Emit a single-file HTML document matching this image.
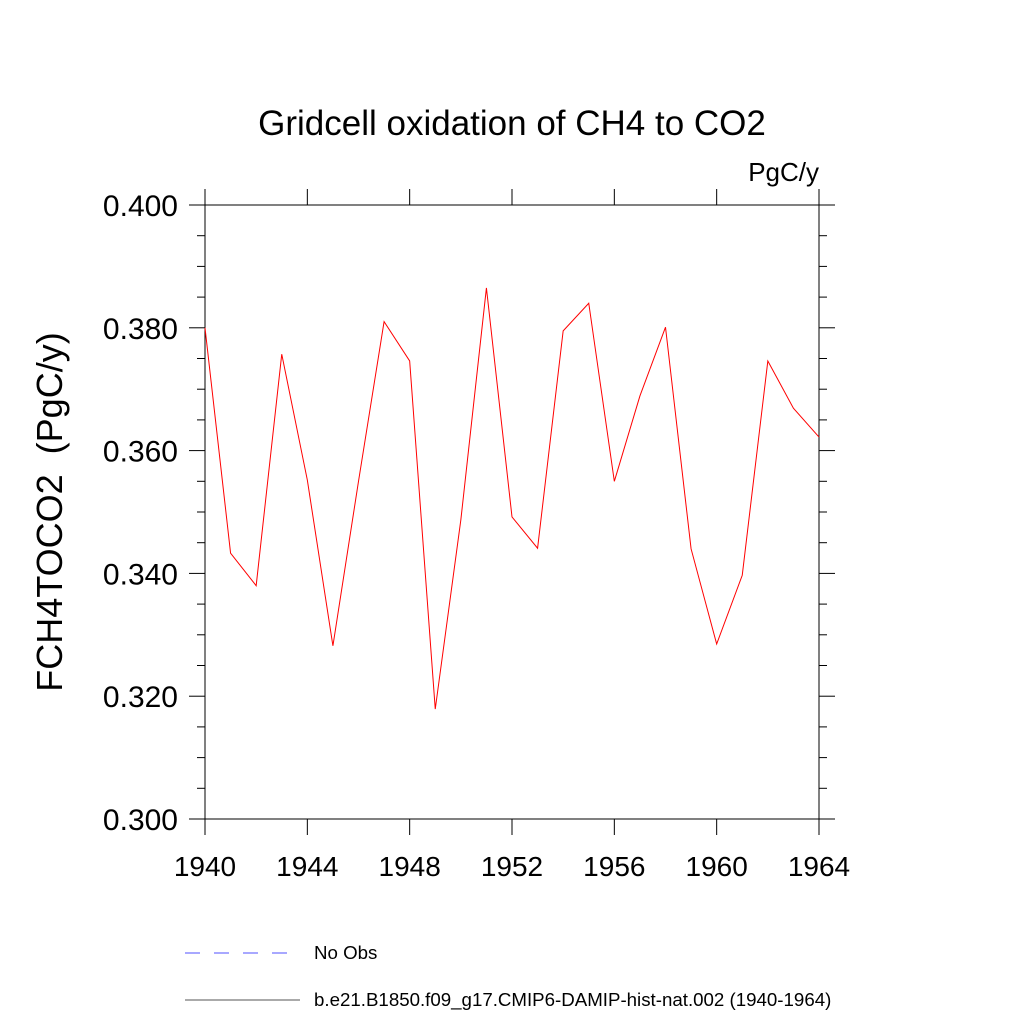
<!DOCTYPE html>
<html><head><meta charset="utf-8"><style>
body{margin:0;background:#fff}
text{font-family:"Liberation Sans",sans-serif;fill:#000;white-space:pre}
</style></head><body>
<svg id="chart" width="1024" height="1024" viewBox="0 0 1024 1024" xmlns="http://www.w3.org/2000/svg">
<text x="512" y="135" font-size="35" text-anchor="middle">Gridcell oxidation of CH4 to CO2</text>
<text x="819" y="181" font-size="26" text-anchor="end">PgC/y</text>
<text transform="translate(62,512) rotate(-90)" font-size="36" text-anchor="middle" xml:space="preserve">FCH4TOCO2  (PgC/y)</text>
<g id="axes"></g>
<g id="series"></g>
<g>
<line x1="185" y1="953" x2="295" y2="953" stroke="#5050ff" stroke-width="1" stroke-dasharray="15,14"/>
<text x="314" y="959" font-size="18.7">No Obs</text>
<line x1="185" y1="1000" x2="300" y2="1000" stroke="#555" stroke-width="1"/>
<text x="314" y="1006" font-size="18.7">b.e21.B1850.f09_g17.CMIP6-DAMIP-hist-nat.002 (1940-1964)</text>
</g>
</svg>
<script>
const years=[1940,1941,1942,1943,1944,1945,1946,1947,1948,1949,1950,1951,1952,1953,1954,1955,1956,1957,1958,1959,1960,1961,1962,1963,1964];
const values=[0.3800,0.3433,0.3380,0.3757,0.3552,0.3282,0.3550,0.3810,0.3746,0.3179,0.3487,0.3865,0.3492,0.3441,0.3795,0.3840,0.3550,0.3689,0.3801,0.3440,0.3285,0.3397,0.3746,0.3669,0.3622];
const xTicks=[1940,1944,1948,1952,1956,1960,1964];
const yTicks=[0.300,0.320,0.340,0.360,0.380,0.400];
const L=205,R=819,T=205,B=819;
const x=v=>L+(v-1940)/(1964-1940)*(R-L);
const y=v=>B-(v-0.3)/(0.1)*(B-T);
const NS="http://www.w3.org/2000/svg";
const ax=document.getElementById('axes');
function ln(x1,y1,x2,y2,name){const l=document.createElementNS(NS,'line');
l.setAttribute('x1',x1);l.setAttribute('y1',y1);l.setAttribute('x2',x2);l.setAttribute('y2',y2);
l.setAttribute('stroke','#000');l.setAttribute('stroke-width','1');


ax.appendChild(l);}
const box=document.createElementNS(NS,'rect');
box.setAttribute('x',L);box.setAttribute('y',T);box.setAttribute('width',R-L);box.setAttribute('height',B-T);
box.setAttribute('fill','none');box.setAttribute('stroke','#000');


ax.appendChild(box);
xTicks.forEach(v=>{const px=x(v);ln(px,B,px,B+16,'x-tick');ln(px,T,px,T-16,'x-tick-top');});
for(let i=0;i<=20;i++){const v=0.3+i*0.005;const major=i%4===0;const len=major?16:8;
const py=y(v);ln(L,py,L-len,py,'y-tick');ln(R,py,R+len,py,'y-tick-right');}
xTicks.forEach(v=>{const t=document.createElementNS(NS,'text');t.setAttribute('x',x(v));t.setAttribute('y',B+57);
t.setAttribute('font-size','28');t.setAttribute('text-anchor','middle');t.textContent=v;


ax.appendChild(t);});
yTicks.forEach(v=>{const t=document.createElementNS(NS,'text');t.setAttribute('x',L-27);t.setAttribute('y',y(v)+11);
t.setAttribute('font-size','30');t.setAttribute('text-anchor','end');t.textContent=v.toFixed(3);


ax.appendChild(t);});
const p=document.createElementNS(NS,'polyline');
p.setAttribute('points',years.map((yr,i)=>x(yr)+','+y(values[i])).join(' '));
p.setAttribute('fill','none');p.setAttribute('stroke','#ff0000');p.setAttribute('stroke-width','1');


document.getElementById('series').appendChild(p);
</script>
</body></html>
